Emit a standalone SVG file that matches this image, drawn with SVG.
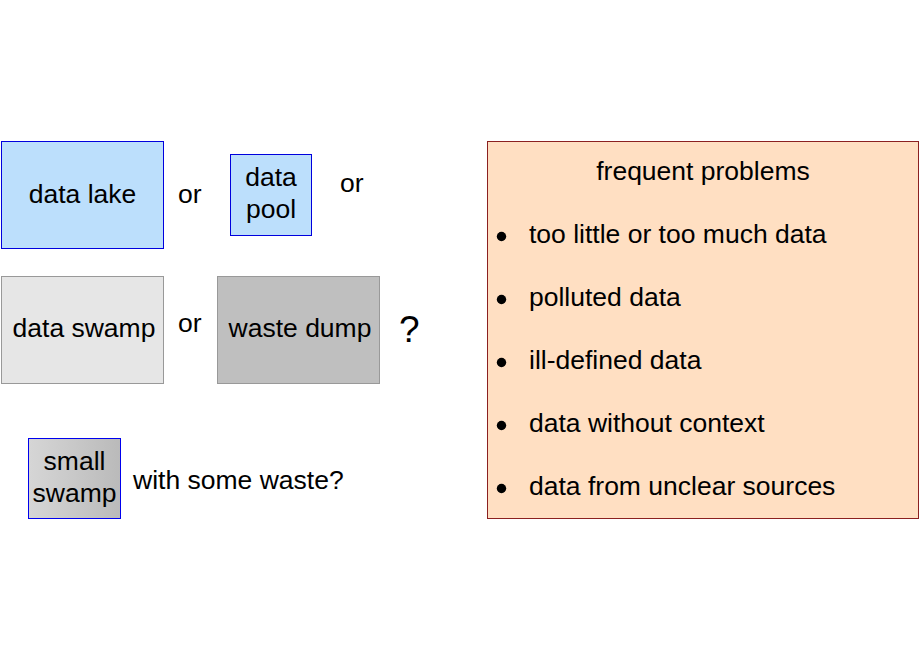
<svg xmlns="http://www.w3.org/2000/svg" width="920" height="660" viewBox="0 0 920 660">
<style>
  text { font-family: "Liberation Sans", Arial, sans-serif; font-size: 26.5px; fill: #000; }
  .mid { text-anchor: middle; }
  .blue { fill: #bcdffc; stroke: #0000dd; stroke-width: 1; }
  .gray { stroke: #999999; stroke-width: 1; }
  .bullet { fill: #000; }
</style>
<defs>
  <linearGradient id="swampGrad" x1="0" y1="0" x2="1" y2="0">
    <stop offset="0" stop-color="#d6d6d6"/>
    <stop offset="1" stop-color="#bababa"/>
  </linearGradient>
</defs>
<rect width="920" height="660" fill="#ffffff"/>
<g id="connectors"/>
<g id="data-lake">
  <rect class="blue" x="1.5" y="141.5" width="162" height="107"/>
  <text class="mid" x="82.5" y="203">data lake</text>
</g>
<text x="178" y="203">or</text>
<g id="data-pool">
  <rect class="blue" x="230.5" y="154.5" width="81" height="81"/>
  <text class="mid" x="271" y="186">data</text>
  <text class="mid" x="271" y="218">pool</text>
</g>
<text x="340" y="192">or</text>
<g id="data-swamp">
  <rect class="gray" fill="#e6e6e6" x="1.5" y="276.5" width="162" height="107"/>
  <text class="mid" x="84" y="337">data swamp</text>
</g>
<text x="178" y="332">or</text>
<g id="waste-dump">
  <rect class="gray" fill="#bfbfbf" x="217.5" y="276.5" width="162" height="107"/>
  <text class="mid" x="300" y="337">waste dump</text>
</g>
<text x="399" y="342" style="font-size:37px">?</text>
<g id="small-swamp">
  <rect fill="url(#swampGrad)" stroke="#0000ee" stroke-width="1" x="28.5" y="438.5" width="92" height="80"/>
  <text class="mid" x="74.5" y="470">small</text>
  <text class="mid" x="74.5" y="502">swamp</text>
</g>
<text x="133" y="489">with some waste?</text>
<g id="frequent-problems">
  <rect fill="#ffdfc2" stroke="#8b2020" stroke-width="1" x="487.5" y="141.5" width="431" height="377"/>
  <text class="mid" x="703" y="180">frequent problems</text>
  <circle class="bullet" cx="501.5" cy="236.5" r="4.7"/>
  <text x="529" y="243">too little or too much data</text>
  <circle class="bullet" cx="501.5" cy="299.5" r="4.7"/>
  <text x="529" y="306">polluted data</text>
  <circle class="bullet" cx="501.5" cy="362.5" r="4.7"/>
  <text x="529" y="369">ill-defined data</text>
  <circle class="bullet" cx="501.5" cy="425.5" r="4.7"/>
  <text x="529" y="432">data without context</text>
  <circle class="bullet" cx="501.5" cy="488.5" r="4.7"/>
  <text x="529" y="495">data from unclear sources</text>
</g>
</svg>
